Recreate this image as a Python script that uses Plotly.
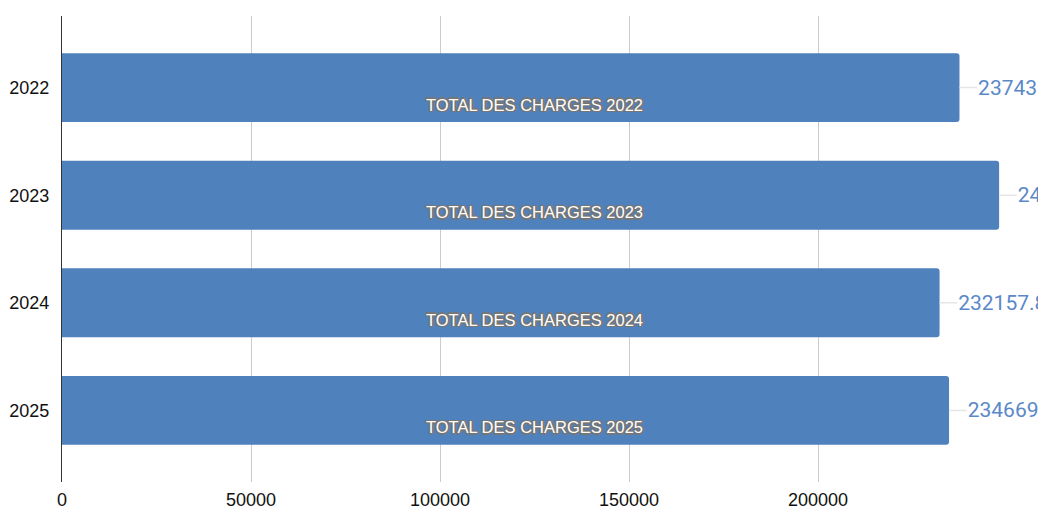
import plotly.graph_objects as go

years = ["2022", "2023", "2024", "2025"]
totals = [237431.62, 247914.07, 232157.85, 234669.40]
inner_labels = ["TOTAL DES CHARGES " + y for y in years]
x_ticks = [0, 50000, 100000, 150000, 200000, 250000]
x_tick_text = ["0", "50000", "100000", "150000", "200000", ""]

BAR = "#4f81bd"
FONT = "Liberation Sans"
OUT = "#767676"
NB = "\u00a0"

ring = [(-1.5, 0), (1.5, 0), (0, 1.5), (0, -1.5), (-1, -1), (1, -1), (-1, 1), (1, 1)]

fig = go.Figure()
fig.add_trace(go.Bar(
    y=years, x=totals, orientation="h",
    marker=dict(color=BAR, cornerradius=3, line=dict(width=0)),
    text=[NB * 3 + str(v) for v in totals],
    textposition="outside", cliponaxis=False, constraintext="none",
    textfont=dict(family="Roboto", size=21, color="#5a88c8"),
    hoverinfo="skip",
))

annotations = []
for i, (v, lab) in enumerate(zip(totals, inner_labels)):
    annotations.append(dict(
        x=v, y=i, xref="x", yref="y",
        text="", showarrow=True, arrowhead=0, arrowwidth=1.5,
        arrowcolor="#e6e6e6", ax=19, ay=0,
        standoff=0, startstandoff=0,
    ))
    for dx, dy in ring:
        annotations.append(dict(
            x=0.5, xref="paper", y=i, yref="y", xshift=dx, yshift=-17 + dy,
            text=lab, showarrow=False,
            font=dict(family=FONT, size=16.5, color=OUT),
        ))
    annotations.append(dict(
        x=0.5, xref="paper", y=i, yref="y", yshift=-17,
        text=lab, showarrow=False,
        font=dict(family=FONT, size=16.5, color="white"),
    ))

fig.update_layout(
    width=1038, height=508,
    margin=dict(l=62, r=31, t=16, b=26),
    paper_bgcolor="white", plot_bgcolor="white",
    showlegend=False,
    bargap=0.36,
    annotations=annotations,
    xaxis=dict(
        range=[0, 250000], tickvals=x_ticks, ticktext=x_tick_text,
        showgrid=True, gridcolor="#cccccc", gridwidth=1,
        zeroline=False, showline=False, ticks="", automargin=False,
        tickfont=dict(family=FONT, size=18, color="#111"),
        ticklabelstandoff=5,
    ),
    yaxis=dict(
        type="category", categoryorder="array", categoryarray=years,
        range=[3.665, -0.665], automargin=False,
        showgrid=False, zeroline=False,
        showline=True, linecolor="#333", linewidth=1.2,
        ticks="", tickfont=dict(family=FONT, size=18, color="#111"),
        ticklabelstandoff=8,
    ),
)

fig.write_html(
    "out.html",
    config={"displayModeBar": False},
    post_script="document.body.style.margin='0';document.body.style.overflow='hidden';",
)
